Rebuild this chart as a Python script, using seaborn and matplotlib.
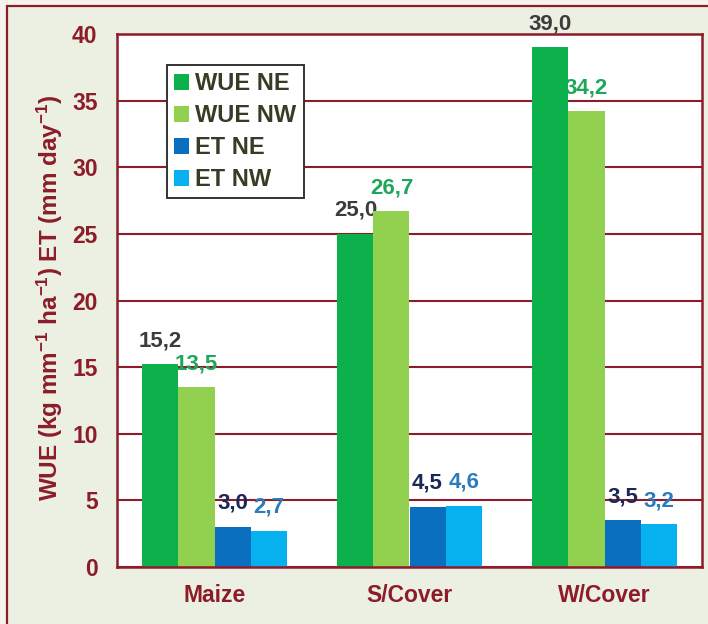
import pandas as pd
import matplotlib.pyplot as plt
import seaborn as sns
from matplotlib.patches import Rectangle

# values
crops = ['Maize', 'S/Cover', 'W/Cover']
series = ['WUE NE', 'WUE NW', 'ET NE', 'ET NW']
wue_ne = [15.2, 25.0, 39.0]
wue_nw = [13.5, 26.7, 34.2]
et_ne = [3.0, 4.5, 3.5]
et_nw = [2.7, 4.6, 3.2]

bar_colors = ['#0cb14b', '#92d050', '#0b6fc0', '#07b0ee']
label_colors = ['#3c3c3c', '#1ea65a', '#1b2757', '#2b7bbd']
dark_red = '#8c1c2a'

df = pd.DataFrame({
    'crop': crops * 4,
    'series': [s for s in series for _ in crops],
    'value': wue_ne + wue_nw + et_ne + et_nw,
})

sns.set_style('white')
plt.rcParams['font.family'] = ['Liberation Sans', 'DejaVu Sans']
plt.rcParams['mathtext.fontset'] = 'custom'
plt.rcParams['mathtext.rm'] = 'Liberation Sans:bold'
plt.rcParams['mathtext.it'] = 'Liberation Sans:bold'
plt.rcParams['mathtext.bf'] = 'Liberation Sans:bold'

fig = plt.figure(figsize=(7.08, 6.24), dpi=100)
fig.patch.set_facecolor('#f3f5ec')
frame = Rectangle((7 / 708, -0.1), 1.2, 1 - 6 / 624 + 0.1,
                  transform=fig.transFigure, facecolor='#ecf0e3',
                  edgecolor=dark_red, linewidth=1.6, zorder=-10)
fig.patches.append(frame)

ax = fig.add_axes([117 / 708, 1 - 567 / 624, 585 / 708, 533 / 624], zorder=1)
ax.set_facecolor('white')

sns.barplot(data=df, x='crop', y='value', hue='series', hue_order=series,
            palette=bar_colors, width=0.74, saturation=1, linewidth=0,
            ax=ax, zorder=3)

ax.set_ylim(0, 40)
ax.set_xlim(-0.5, 2.5)
ax.set_yticks(range(0, 41, 5))
ax.grid(axis='y', color=dark_red, linewidth=1.5, zorder=1)
ax.set_axisbelow(True)
for sp in ax.spines.values():
    sp.set_color(dark_red)
    sp.set_linewidth(1.8)
    sp.set_zorder(4)

ax.tick_params(axis='y', colors=dark_red, length=4, width=1.5, pad=10, labelsize=16.5)
ax.tick_params(axis='x', colors=dark_red, length=0, pad=12, labelsize=16.5)
ax.set_xticks([0.5, 1.5], minor=True)
ax.tick_params(axis='x', which='minor', direction='in', length=6, width=1.5, colors=dark_red)
for lbl in ax.get_yticklabels() + ax.get_xticklabels():
    lbl.set_fontweight('bold')
ax.set_xlabel('')
ax.set_ylabel('')

fig.text(50 / 708, 1 - 298 / 624,
         r'WUE (kg mm$^{-1}$ ha$^{-1}$) ET (mm day$^{-1}$)',
         rotation=90, ha='center', va='center', fontsize=17.5,
         fontweight='bold', color=dark_red)

# value labels above each bar
for cont, col in zip(ax.containers, label_colors):
    for bar in cont:
        h = bar.get_height()
        txt = f'{h:.1f}'.replace('.', ',')
        ax.annotate(txt, (bar.get_x() + bar.get_width() / 2, h),
                    xytext=(0, 17), textcoords='offset points',
                    ha='center', va='center', fontsize=16, fontweight='bold',
                    color=col, annotation_clip=False, zorder=2)

handles, labels = ax.get_legend_handles_labels()
leg = ax.legend(handles, labels, loc='upper left', bbox_to_anchor=(0.0855, 0.942),
                borderaxespad=0, fancybox=False, framealpha=1, edgecolor='#333333',
                handlelength=0.65, handleheight=0.65, handletextpad=0.25,
                labelspacing=0.38, borderpad=0.3, prop={'weight': 'bold', 'size': 17})
leg.get_frame().set_linewidth(1.4)
for t in leg.get_texts():
    t.set_color('#3b3b25')

fig.savefig('out.png', dpi=100, facecolor=fig.get_facecolor())
